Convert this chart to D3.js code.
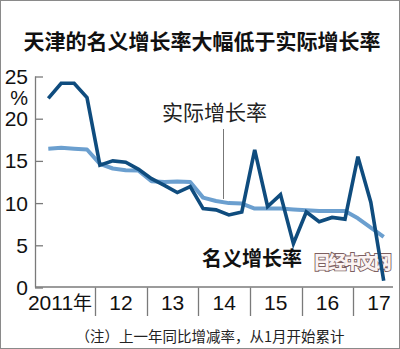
<!DOCTYPE html>
<html>
<head>
<meta charset="utf-8">
<script src="https://cdn.jsdelivr.net/npm/d3@7"></script>
<style>
  html, body { margin: 0; padding: 0; background: #fff; }
  svg { display: block; }
  .cjk { font-family: "Noto Sans CJK SC", "Noto Sans", sans-serif; }
  .num { font-family: "Liberation Sans Narrow", "Liberation Sans", Arial, sans-serif; }
</style>
</head>
<body>
<svg id="chart" width="400" height="349"></svg>
<script>
// Tianjin GDP, year-on-year growth, cumulative from January (quarterly, 2011 Q1 – 2017 Q3)
const years = ["2011年", "12", "13", "14", "15", "16", "17"];
const nominal = [22.4, 24.2, 24.2, 22.5, 14.5, 15.0, 14.85, 14.0, 12.9, 12.1, 11.25, 11.95,
                 9.35, 9.2, 8.6, 8.95, 16.3, 9.6, 11.0, 5.2, 8.95, 7.8, 8.3, 8.1, 15.5, 10.1, 0.8];
const real = [16.45, 16.55, 16.45, 16.35, 14.65, 14.1, 13.9, 13.85, 12.6, 12.5, 12.55, 12.5,
              10.65, 10.25, 10.0, 9.95, 9.35, 9.35, 9.35, 9.25, 9.15, 9.05, 9.05, 9.05, 8.2, 7.1, 6.0];
const yTicks = [0, 5, 10, 15, 20, 25];

const svg = d3.select("#chart");
const W = 400, H = 349;

// outer frame
svg.append("rect").attr("x", 0.5).attr("y", 0.5).attr("width", W - 1).attr("height", H - 1)
  .attr("fill", "#fff").attr("stroke", "#8a8a8a").attr("stroke-width", 1);

// title
svg.append("text").attr("class", "cjk")
  .attr("x", 202).attr("y", 49).attr("text-anchor", "middle")
  .attr("font-size", 21).attr("font-weight", "bold").attr("fill", "#111")
  .text("天津的名义增长率大幅低于实际增长率");

const x = d3.scaleLinear().domain([0, 26]).range([48.3, 383.7]);
const y = d3.scaleLinear().domain([0, 25]).range([287.5, 76.5]);
const axisX = 35;
const gray = "#7a7a7a";

// y axis line + inward ticks
svg.append("line").attr("x1", axisX + 0.5).attr("x2", axisX + 0.5)
  .attr("y1", y(25)).attr("y2", y(0)).attr("stroke", gray).attr("stroke-width", 1.3);
const yAxis = d3.axisRight(y).tickValues(yTicks).tickSize(8).tickFormat("");
const gy = svg.append("g").attr("transform", `translate(${axisX},0)`).call(yAxis);
gy.select(".domain").remove();
gy.selectAll(".tick line").attr("stroke", gray).attr("stroke-width", 1.3);

// y tick labels
svg.selectAll(".ylab").data(yTicks).enter().append("text")
  .attr("class", "num ylab")
  .attr("x", 28).attr("y", d => y(d) + 7.5)
  .attr("text-anchor", "end").attr("font-size", 21).attr("fill", "#111")
  .text(d => d);
svg.append("text").attr("class", "num")
  .attr("x", 28).attr("y", 105).attr("text-anchor", "end")
  .attr("font-size", 20).attr("fill", "#111").text("%");

// x axis baseline
svg.append("line").attr("x1", axisX).attr("x2", 393)
  .attr("y1", y(0) - 0.5).attr("y2", y(0) - 0.5)
  .attr("stroke", gray).attr("stroke-width", 1.3);

// year separators below the axis
const sepIdx = d3.range(1, years.length).map(k => 4 * k - 0.365);
svg.selectAll(".sep").data(sepIdx).enter().append("line")
  .attr("x1", d => Math.round(x(d)) + 0.5).attr("x2", d => Math.round(x(d)) + 0.5)
  .attr("y1", y(0)).attr("y2", 316)
  .attr("stroke", gray).attr("stroke-width", 1.3);

// year labels
svg.selectAll(".ylabx").data(years).enter().append("text")
  .attr("class", "num")
  .attr("x", (d, k) => k === 0 ? 60 : x(4 * k + 1.635))
  .attr("y", 310).attr("text-anchor", "middle")
  .attr("font-size", 21).attr("fill", "#111")
  .each(function (d) {
    const t = d3.select(this);
    if (d.endsWith("年")) {
      t.append("tspan").text(d.slice(0, -1));
      t.append("tspan").attr("class", "cjk").attr("font-size", 19).text("年");
    } else {
      t.text(d);
    }
  });

// footnote
svg.append("text").attr("class", "cjk")
  .attr("x", 210).attr("y", 342).attr("text-anchor", "middle")
  .attr("font-size", 14.5).attr("fill", "#222")
  .text("（注）上一年同比增减率，从1月开始累计");

// masthead mark
svg.append("text").attr("class", "cjk")
  .attr("x", 313).attr("y", 269)
  .attr("font-size", 18).attr("font-weight", "900").attr("letter-spacing", -2.8)
  .attr("fill", "#fbf3f3").attr("stroke", "#7d5f60").attr("stroke-width", 1.8)
  .attr("paint-order", "stroke")
  .text("日经中文网");

const line = d3.line().x((d, i) => x(i)).y(d => y(d)).curve(d3.curveLinear);

// real growth
svg.append("path").datum(real).attr("d", line)
  .attr("fill", "none").attr("stroke", "#6b9fcf").attr("stroke-width", 4)
  .attr("stroke-linejoin", "round");

// nominal growth
svg.append("path").datum(nominal).attr("d", line)
  .attr("fill", "none").attr("stroke", "#0f4c7e").attr("stroke-width", 3.6)
  .attr("stroke-linejoin", "miter");

// annotations
svg.append("line").attr("x1", 223.5).attr("x2", 223.5).attr("y1", 129).attr("y2", y(real[13]) - 2)
  .attr("stroke", "#777").attr("stroke-width", 1);
svg.append("text").attr("class", "cjk")
  .attr("x", 162).attr("y", 120).attr("font-size", 21).attr("fill", "#222")
  .text("实际增长率");
svg.append("text").attr("class", "cjk")
  .attr("x", 202).attr("y", 266).attr("font-size", 20).attr("font-weight", "bold").attr("fill", "#111")
  .text("名义增长率");
</script>
</body>
</html>
